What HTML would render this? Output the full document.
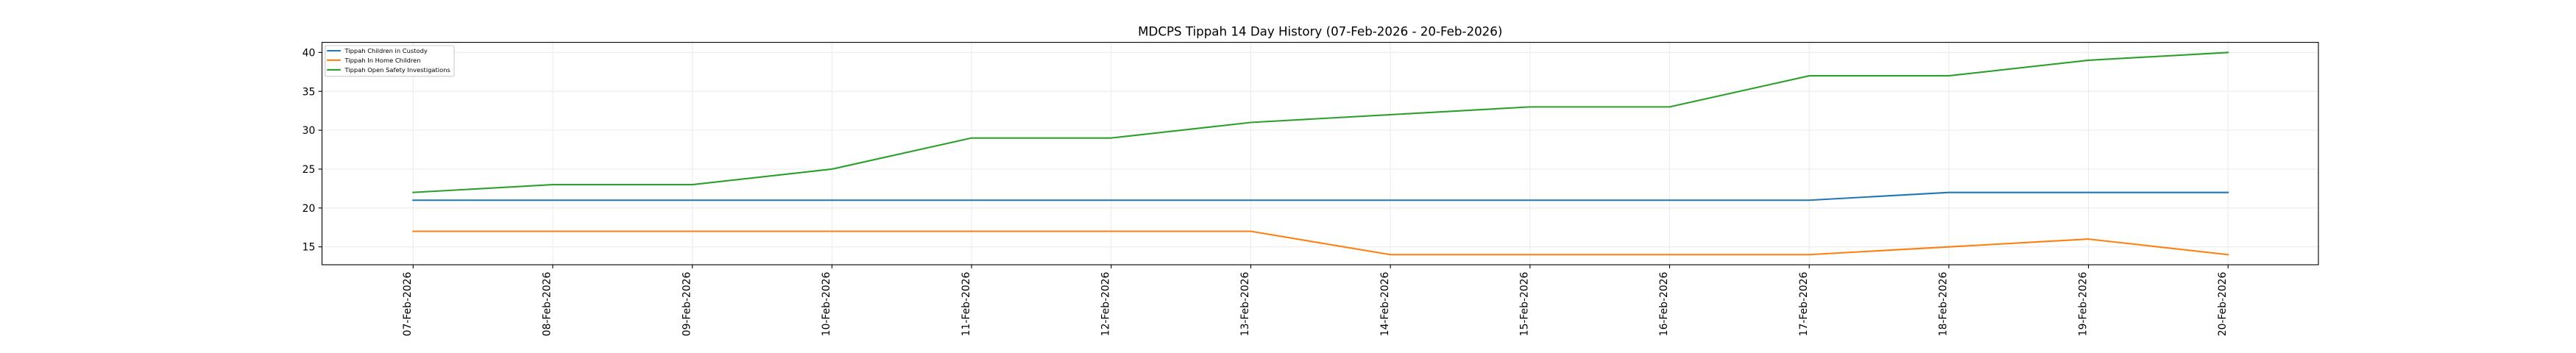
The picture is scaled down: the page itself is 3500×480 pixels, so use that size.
<!DOCTYPE html>
<html><head><meta charset="utf-8"><style>
html,body{margin:0;padding:0;background:#fff;}
svg{display:block;font-family:"DejaVu Sans","Liberation Sans",sans-serif;}
</style></head><body>
<svg width="3500" height="480" viewBox="0 0 3500 480" xmlns="http://www.w3.org/2000/svg">
<rect x="0" y="0" width="3500" height="480" fill="#fff"/>
<!-- grid -->
<g stroke="#ececec" stroke-width="1.1">
<line x1="561.3" y1="57.6" x2="561.3" y2="360"/>
<line x1="750.99" y1="57.6" x2="750.99" y2="360"/>
<line x1="940.68" y1="57.6" x2="940.68" y2="360"/>
<line x1="1130.37" y1="57.6" x2="1130.37" y2="360"/>
<line x1="1320.06" y1="57.6" x2="1320.06" y2="360"/>
<line x1="1509.75" y1="57.6" x2="1509.75" y2="360"/>
<line x1="1699.44" y1="57.6" x2="1699.44" y2="360"/>
<line x1="1889.13" y1="57.6" x2="1889.13" y2="360"/>
<line x1="2078.82" y1="57.6" x2="2078.82" y2="360"/>
<line x1="2268.51" y1="57.6" x2="2268.51" y2="360"/>
<line x1="2458.2" y1="57.6" x2="2458.2" y2="360"/>
<line x1="2647.89" y1="57.6" x2="2647.89" y2="360"/>
<line x1="2837.58" y1="57.6" x2="2837.58" y2="360"/>
<line x1="3027.27" y1="57.6" x2="3027.27" y2="360"/>
<line x1="437.5" y1="71.35" x2="3150" y2="71.35"/>
<line x1="437.5" y1="124.21" x2="3150" y2="124.21"/>
<line x1="437.5" y1="177.08" x2="3150" y2="177.08"/>
<line x1="437.5" y1="229.94" x2="3150" y2="229.94"/>
<line x1="437.5" y1="282.81" x2="3150" y2="282.81"/>
<line x1="437.5" y1="335.67" x2="3150" y2="335.67"/>
</g>
<!-- series -->
<g fill="none" stroke-width="2.08" stroke-linejoin="round" stroke-linecap="square">
<polyline stroke="#1f77b4" points="561.3,272.23 750.99,272.23 940.68,272.23 1130.37,272.23 1320.06,272.23 1509.75,272.23 1699.44,272.23 1889.13,272.23 2078.82,272.23 2268.51,272.23 2458.2,272.23 2647.89,261.66 2837.58,261.66 3027.27,261.66"/>
<polyline stroke="#ff7f0e" points="561.3,314.52 750.99,314.52 940.68,314.52 1130.37,314.52 1320.06,314.52 1509.75,314.52 1699.44,314.52 1889.13,346.24 2078.82,346.24 2268.51,346.24 2458.2,346.24 2647.89,335.67 2837.58,325.10 3027.27,346.24"/>
<polyline stroke="#2ca02c" points="561.3,261.66 750.99,251.09 940.68,251.09 1130.37,229.94 1320.06,187.65 1509.75,187.65 1699.44,166.51 1889.13,155.93 2078.82,145.36 2268.51,145.36 2458.2,103.06 2647.89,103.06 2837.58,81.92 3027.27,71.35"/>
</g>
<!-- spines -->
<rect x="437.5" y="57.6" width="2712.5" height="302.4" fill="none" stroke="#000" stroke-width="1.11"/>
<!-- ticks -->
<g stroke="#000" stroke-width="1.11">
<line x1="561.3" y1="360" x2="561.3" y2="364.9"/>
<line x1="750.99" y1="360" x2="750.99" y2="364.9"/>
<line x1="940.68" y1="360" x2="940.68" y2="364.9"/>
<line x1="1130.37" y1="360" x2="1130.37" y2="364.9"/>
<line x1="1320.06" y1="360" x2="1320.06" y2="364.9"/>
<line x1="1509.75" y1="360" x2="1509.75" y2="364.9"/>
<line x1="1699.44" y1="360" x2="1699.44" y2="364.9"/>
<line x1="1889.13" y1="360" x2="1889.13" y2="364.9"/>
<line x1="2078.82" y1="360" x2="2078.82" y2="364.9"/>
<line x1="2268.51" y1="360" x2="2268.51" y2="364.9"/>
<line x1="2458.2" y1="360" x2="2458.2" y2="364.9"/>
<line x1="2647.89" y1="360" x2="2647.89" y2="364.9"/>
<line x1="2837.58" y1="360" x2="2837.58" y2="364.9"/>
<line x1="3027.27" y1="360" x2="3027.27" y2="364.9"/>
<line x1="432.6" y1="71.35" x2="437.5" y2="71.35"/>
<line x1="432.6" y1="124.21" x2="437.5" y2="124.21"/>
<line x1="432.6" y1="177.08" x2="437.5" y2="177.08"/>
<line x1="432.6" y1="229.94" x2="437.5" y2="229.94"/>
<line x1="432.6" y1="282.81" x2="437.5" y2="282.81"/>
<line x1="432.6" y1="335.67" x2="437.5" y2="335.67"/>
</g>
<!-- y tick labels -->
<g font-size="13.89" fill="#000" text-anchor="end">
<text x="428.3" y="76.4">40</text>
<text x="428.3" y="129.3">35</text>
<text x="428.3" y="182.1">30</text>
<text x="428.3" y="235.0">25</text>
<text x="428.3" y="287.9">20</text>
<text x="428.3" y="340.7">15</text>
</g>
<!-- x tick labels -->
<g font-size="13.89" fill="#000" text-anchor="end">
<text transform="translate(558.0,369.7) rotate(-90)">07-Feb-2026</text>
<text transform="translate(747.7,369.7) rotate(-90)">08-Feb-2026</text>
<text transform="translate(937.4,369.7) rotate(-90)">09-Feb-2026</text>
<text transform="translate(1127.1,369.7) rotate(-90)">10-Feb-2026</text>
<text transform="translate(1316.8,369.7) rotate(-90)">11-Feb-2026</text>
<text transform="translate(1506.5,369.7) rotate(-90)">12-Feb-2026</text>
<text transform="translate(1696.1,369.7) rotate(-90)">13-Feb-2026</text>
<text transform="translate(1885.8,369.7) rotate(-90)">14-Feb-2026</text>
<text transform="translate(2075.5,369.7) rotate(-90)">15-Feb-2026</text>
<text transform="translate(2265.2,369.7) rotate(-90)">16-Feb-2026</text>
<text transform="translate(2454.9,369.7) rotate(-90)">17-Feb-2026</text>
<text transform="translate(2644.6,369.7) rotate(-90)">18-Feb-2026</text>
<text transform="translate(2834.3,369.7) rotate(-90)">19-Feb-2026</text>
<text transform="translate(3024.0,369.7) rotate(-90)">20-Feb-2026</text>
</g>
<!-- title -->
<text x="1793.75" y="48.3" font-size="16.67" text-anchor="middle" fill="#000">MDCPS Tippah 14 Day History (07-Feb-2026 - 20-Feb-2026)</text>
<!-- legend -->
<rect x="441.8" y="62" width="175.3" height="41.8" rx="1.7" ry="1.7" fill="#fff" fill-opacity="0.8" stroke="#cccccc" stroke-width="1.1"/>
<g stroke-width="2.08" stroke-linecap="square">
<line x1="445.2" y1="69.0" x2="461.8" y2="69.0" stroke="#1f77b4"/>
<line x1="445.2" y1="81.8" x2="461.8" y2="81.8" stroke="#ff7f0e"/>
<line x1="445.2" y1="94.9" x2="461.8" y2="94.9" stroke="#2ca02c"/>
</g>
<g font-size="8.33" fill="#000">
<text x="468.5" y="72.0">Tippah Children in Custody</text>
<text x="468.5" y="84.8">Tippah In Home Children</text>
<text x="468.5" y="97.9">Tippah Open Safety Investigations</text>
</g>
</svg>
</body></html>
